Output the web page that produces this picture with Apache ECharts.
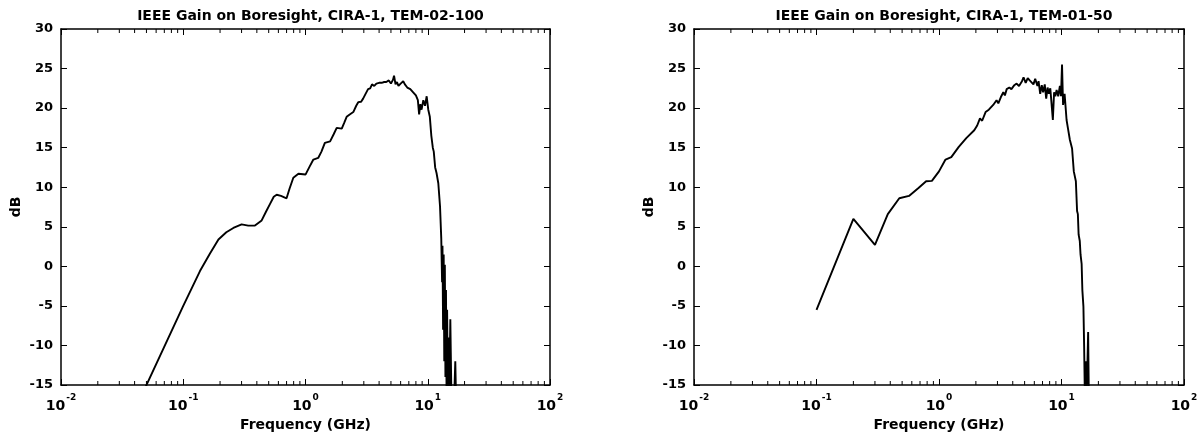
<!DOCTYPE html>
<html>
<head>
<meta charset="utf-8">
<script src="https://cdn.jsdelivr.net/npm/echarts@6/dist/echarts.min.js"></script>
<style>
html,body{margin:0;padding:0;background:#fff;}
#chart{width:1202px;height:442px;}
</style>
</head>
<body>
<div id="chart"></div>
<script>
// ---- Data ----
const titleA = 'IEEE Gain on Boresight, CIRA-1, TEM-02-100';
const titleB = 'IEEE Gain on Boresight, CIRA-1, TEM-01-50';
const xName = 'Frequency (GHz)';
const yName = 'dB';
const xMin = 0.01, xMax = 100;
const yMin = -15, yMax = 30, yStep = 5;

const freqA = [0.048,0.1,0.137,0.165,0.194,0.225,0.257,0.3,0.34,0.386,0.438,0.475,0.513,0.55,0.581,0.63,0.7,0.74,0.795,0.875,
  1.0,1.08,1.16,1.27,1.35,1.44,1.59,1.7,1.8,1.98,2.08,2.17,2.3,2.46,2.6,2.7,2.85,2.96,3.1,3.25,3.38,3.5,3.65,3.8,4.0,4.2,4.4,4.58,4.8,5.0,
  5.2,5.3,5.45,5.6,5.76,6.0,6.3,6.5,6.8,7.2,7.6,8.0,8.3,8.5,8.7,8.9,9.2,9.5,9.8,10.1,10.4,10.7,11.0,11.2,11.5,11.8,12.2,12.6,12.9,13.1,
  13.2,13.35,13.5,13.65,13.8,13.95,14.1,14.25,14.4,14.6,14.8,15.0,15.3,15.6,16.0,16.5,16.8,17.0];
const gainA = [-15.6,-5.0,-0.6,1.6,3.4,4.3,4.85,5.3,5.15,5.15,5.8,6.9,7.9,8.8,9.05,8.9,8.6,9.8,11.2,11.7,
  11.6,12.6,13.5,13.7,14.5,15.6,15.8,16.7,17.5,17.4,18.2,18.9,19.2,19.5,20.3,20.75,20.8,21.2,21.8,22.4,22.5,23.0,22.8,23.1,23.2,23.2,23.3,23.3,23.5,23.1,
  23.6,24.1,23.0,23.3,22.8,23.1,23.4,23.0,22.6,22.4,22.0,21.6,21.0,19.2,20.5,19.8,21.0,20.3,21.5,19.8,18.9,16.5,15.0,14.5,12.5,11.8,10.5,7.6,3.5,-2.0,
  2.6,-8.0,1.5,-12.0,0.2,-14.0,-3.0,-16.0,-5.5,-16.0,-9.0,-16.0,-6.7,-16.0,-16.0,-16.0,-12.0,-16.0];

const freqB = [0.1,0.2,0.3,0.382,0.474,0.569,0.68,0.785,0.875,1.0,1.13,1.26,1.45,1.67,1.94,2.05,2.16,2.25,2.4,2.55,2.77,2.95,3.05,3.2,3.35,3.45,3.57,3.75,3.9,4.12,
  4.3,4.5,4.76,4.9,5.1,5.3,5.5,5.7,5.9,6.1,6.36,6.5,6.7,6.9,7.08,7.3,7.5,7.7,7.89,8.1,8.3,8.5,8.7,8.9,9.12,9.4,9.7,9.9,10.1,10.3,
  10.6,11.0,11.3,11.7,12.2,12.6,13.1,13.4,13.6,13.8,14.1,14.3,14.6,14.8,15.1,15.3,15.5,15.8,16.0,16.3,16.5,16.7,17.0];
const gainB = [-5.5,6.0,2.7,6.6,8.6,8.9,9.9,10.75,10.8,12.0,13.5,13.8,15.1,16.2,17.2,17.8,18.7,18.4,19.5,19.8,20.4,21.0,20.6,21.4,22.0,21.6,22.4,22.6,22.4,22.9,
  23.1,22.8,23.4,23.9,23.2,23.8,23.5,23.6,23.0,23.7,22.8,23.4,21.8,22.9,22.0,23.0,21.2,22.6,21.8,22.5,20.5,18.5,22.0,21.5,22.3,21.5,22.8,21.5,25.5,20.4,
  21.8,18.5,17.4,16.0,14.9,12.0,10.75,7.0,6.6,4.0,3.2,1.5,0.3,-3.0,-5.1,-10.0,-16.0,-12.0,-16.0,-12.0,-8.3,-16.0,-16.0];

// ---- Styling / layout ----
const FONT = 'DejaVu Sans';
const BLACK = '#000';
const grids = [
  {left: 61, top: 29, width: 489, height: 356},
  {left: 694, top: 29, width: 490, height: 356}
];

// minor tick positions on log axis (2..9 per decade)
const minorTicks = [];
for (let e = -2; e < 2; e++) {
  for (let m = 2; m <= 9; m++) minorTicks.push([m * Math.pow(10, e), 0]);
}

function xLabel(v) {
  const e = Math.round(Math.log10(v));
  return '{b|10}{s|' + e + '}';
}

const richX = {
  b: {fontFamily: FONT, fontWeight: 'bold', fontSize: 14, color: BLACK, verticalAlign: 'bottom', padding: [6, 0, 0, 0]},
  s: {fontFamily: FONT, fontWeight: 'bold', fontSize: 9, color: BLACK, verticalAlign: 'top', padding: [0, 0, 0, 1]}
};

function xAxes(gi) {
  return [
    {
      type: 'log', logBase: 10, gridIndex: gi, min: xMin, max: xMax, position: 'bottom',
      name: xName, nameLocation: 'middle', nameGap: 31,
      nameTextStyle: {fontFamily: FONT, fontWeight: 'bold', fontSize: 14, color: BLACK},
      axisLine: {show: true, onZero: false, lineStyle: {color: BLACK, width: 1.5}},
      axisTick: {show: true, inside: true, length: 6, lineStyle: {color: BLACK, width: 1}},
      axisLabel: {show: true, margin: 8, formatter: xLabel, rich: richX},
      splitLine: {show: false}, minorTick: {show: false}
    },
    {
      type: 'log', logBase: 10, gridIndex: gi, min: xMin, max: xMax, position: 'top',
      axisLine: {show: true, onZero: false, lineStyle: {color: BLACK, width: 1.5}},
      axisTick: {show: true, inside: true, length: 6, lineStyle: {color: BLACK, width: 1}},
      axisLabel: {show: false}, splitLine: {show: false}
    }
  ];
}

function yAxes(gi) {
  return [
    {
      type: 'value', gridIndex: gi, min: yMin, max: yMax, interval: yStep, position: 'left',
      name: yName, nameLocation: 'middle', nameGap: 38, nameRotate: 90,
      nameTextStyle: {fontFamily: FONT, fontWeight: 'bold', fontSize: 14, color: BLACK},
      axisLine: {show: true, onZero: false, lineStyle: {color: BLACK, width: 1.5}},
      axisTick: {show: true, inside: true, length: 6, lineStyle: {color: BLACK, width: 1}},
      axisLabel: {show: true, margin: 8, fontFamily: FONT, fontWeight: 'bold', fontSize: 13, color: BLACK},
      splitLine: {show: false}
    },
    {
      type: 'value', gridIndex: gi, min: yMin, max: yMax, interval: yStep, position: 'right',
      axisLine: {show: true, onZero: false, lineStyle: {color: BLACK, width: 1.5}},
      axisTick: {show: true, inside: true, length: 6, lineStyle: {color: BLACK, width: 1}},
      axisLabel: {show: false}, splitLine: {show: false}
    }
  ];
}

function minorSeries(axisIdx) {
  return {
    type: 'custom', xAxisIndex: axisIdx, yAxisIndex: axisIdx, silent: true, clip: false,
    data: minorTicks, encode: {x: 0, y: 1},
    renderItem: function (params, api) {
      const f = api.value(0);
      const b = api.coord([f, yMin]);
      const t = api.coord([f, yMax]);
      const st = {stroke: BLACK, lineWidth: 1};
      return {type: 'group', children: [
        {type: 'line', shape: {x1: b[0], y1: b[1], x2: b[0], y2: b[1] - 4}, style: st},
        {type: 'line', shape: {x1: t[0], y1: t[1], x2: t[0], y2: t[1] + 4}, style: st}
      ]};
    }
  };
}

function lineSeries(axisIdx, fr, g) {
  return {
    type: 'line', xAxisIndex: axisIdx, yAxisIndex: axisIdx,
    data: fr.map((f, i) => [f, g[i]]),
    showSymbol: false, symbol: 'none', clip: true,
    lineStyle: {color: BLACK, width: 1.9},
    z: 3
  };
}

const chart = echarts.init(document.getElementById('chart'), null, {renderer: 'canvas'});
chart.setOption({
  animation: false,
  backgroundColor: '#fff',
  title: [
    {text: titleA, left: grids[0].left + grids[0].width / 2, top: 4, textAlign: 'center',
     textStyle: {fontFamily: FONT, fontWeight: 'bold', fontSize: 14, color: BLACK}},
    {text: titleB, left: grids[1].left + grids[1].width / 2, top: 4, textAlign: 'center',
     textStyle: {fontFamily: FONT, fontWeight: 'bold', fontSize: 14, color: BLACK}}
  ],
  grid: grids,
  xAxis: [...xAxes(0), ...xAxes(1)],
  yAxis: [...yAxes(0), ...yAxes(1)],
  series: [
    lineSeries(0, freqA, gainA),
    lineSeries(2, freqB, gainB),
    minorSeries(0),
    minorSeries(2)
  ]
});
</script>
</body>
</html>
